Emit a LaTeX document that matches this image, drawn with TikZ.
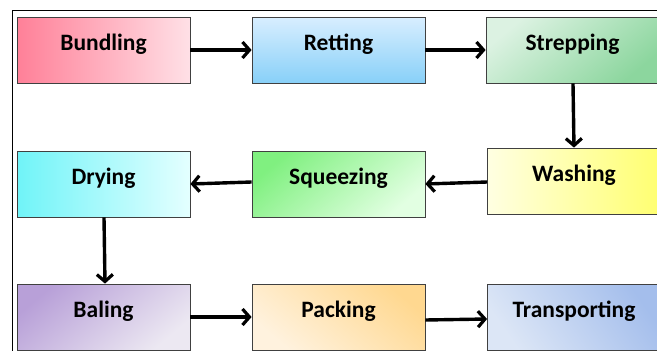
\documentclass[tikz,border=0pt]{standalone}
\usepackage{fontspec}
\setmainfont{Carlito}
\usetikzlibrary{arrows.meta}
\definecolor{bunL}{RGB}{255,128,152}
\definecolor{bunR}{RGB}{255,224,230}
\definecolor{retT}{RGB}{216,238,255}
\definecolor{retB}{RGB}{136,208,248}
\definecolor{strL}{RGB}{220,242,226}
\definecolor{strD}{RGB}{140,214,158}
\definecolor{wasL}{RGB}{255,255,226}
\definecolor{wasR}{RGB}{255,255,112}
\definecolor{dryL}{RGB}{112,244,248}
\definecolor{dryR}{RGB}{228,255,255}
\definecolor{squD}{RGB}{128,240,128}
\definecolor{squL}{RGB}{226,255,226}
\definecolor{balD}{RGB}{184,160,216}
\definecolor{balL}{RGB}{236,232,242}
\definecolor{pacD}{RGB}{255,216,144}
\definecolor{pacL}{RGB}{255,242,222}
\definecolor{traD}{RGB}{164,190,236}
\definecolor{traL}{RGB}{220,230,246}
\tikzset{
  stepbox/.style={draw={rgb,255:red,64;green,64;blue,64}, line width=0.8pt,
    minimum width=173pt, minimum height=66pt, inner sep=0pt,
    text height=33pt, text depth=33pt,
    font=\bfseries\fontsize{23.5}{26}\selectfont},
  flow/.style={line width=3.4pt, -{Straight Barb[length=7pt,width=16pt,line width=3.2pt]}},
}
\begin{document}
\begin{tikzpicture}[x=1pt,y=-1pt]
\useasboundingbox (0,0) rectangle (657,351);
\begin{scope}
\clip (0,0) rectangle (657,351);
\draw[line width=1pt] (12,700) -- (12,10) -- (700,10);
\node[stepbox, left color=bunL, right color=bunR] (bun) at (103.5,50) {Bundling};
\node[stepbox, top color=retT, bottom color=retB] (ret) at (338.5,50) {Retting};
\node[stepbox, top color=strL, middle color=strL!80!strD, bottom color=strD, shading angle=40] (str) at (572.5,50) {Strepping};
\node[stepbox, left color=wasL, right color=wasR] (was) at (574,181) {Washing};
\node[stepbox, top color=squD, middle color=squD!40!squL, bottom color=squL, shading angle=40] (squ) at (338.5,184) {Squeezing};
\node[stepbox, left color=dryL, right color=dryR] (dry) at (103.5,184) {Drying};
\node[stepbox, top color=balD, middle color=balD!35!balL, bottom color=balL, shading angle=40] (bal) at (103.5,317) {Baling};
\node[stepbox, top color=pacD, middle color=pacD!30!pacL, bottom color=pacL, shading angle=-40] (pac) at (338.5,317) {Packing};
\node[stepbox, top color=traD, middle color=traD!45!traL, bottom color=traL, shading angle=-55] (tra) at (574,317) {Transporting};
\draw[flow] (bun.east |- 0,50) -- (ret.west |- 0,50);
\draw[flow] (ret.east |- 0,50) -- (str.west |- 0,50);
\draw[flow] (str.south -| 573,0) -- (was.north -| 574,0);
\draw[flow] (was.west |- 0,182) -- (squ.east |- 0,184);
\draw[flow] (squ.west |- 0,182) -- (dry.east |- 0,184);
\draw[flow] (dry.south -| 104,0) -- (bal.north -| 105,0);
\draw[flow] (bal.east |- 0,317) -- (pac.west |- 0,317);
\draw[flow] (pac.east |- 0,320) -- (tra.west |- 0,319);
\end{scope}
\end{tikzpicture}
\end{document}
